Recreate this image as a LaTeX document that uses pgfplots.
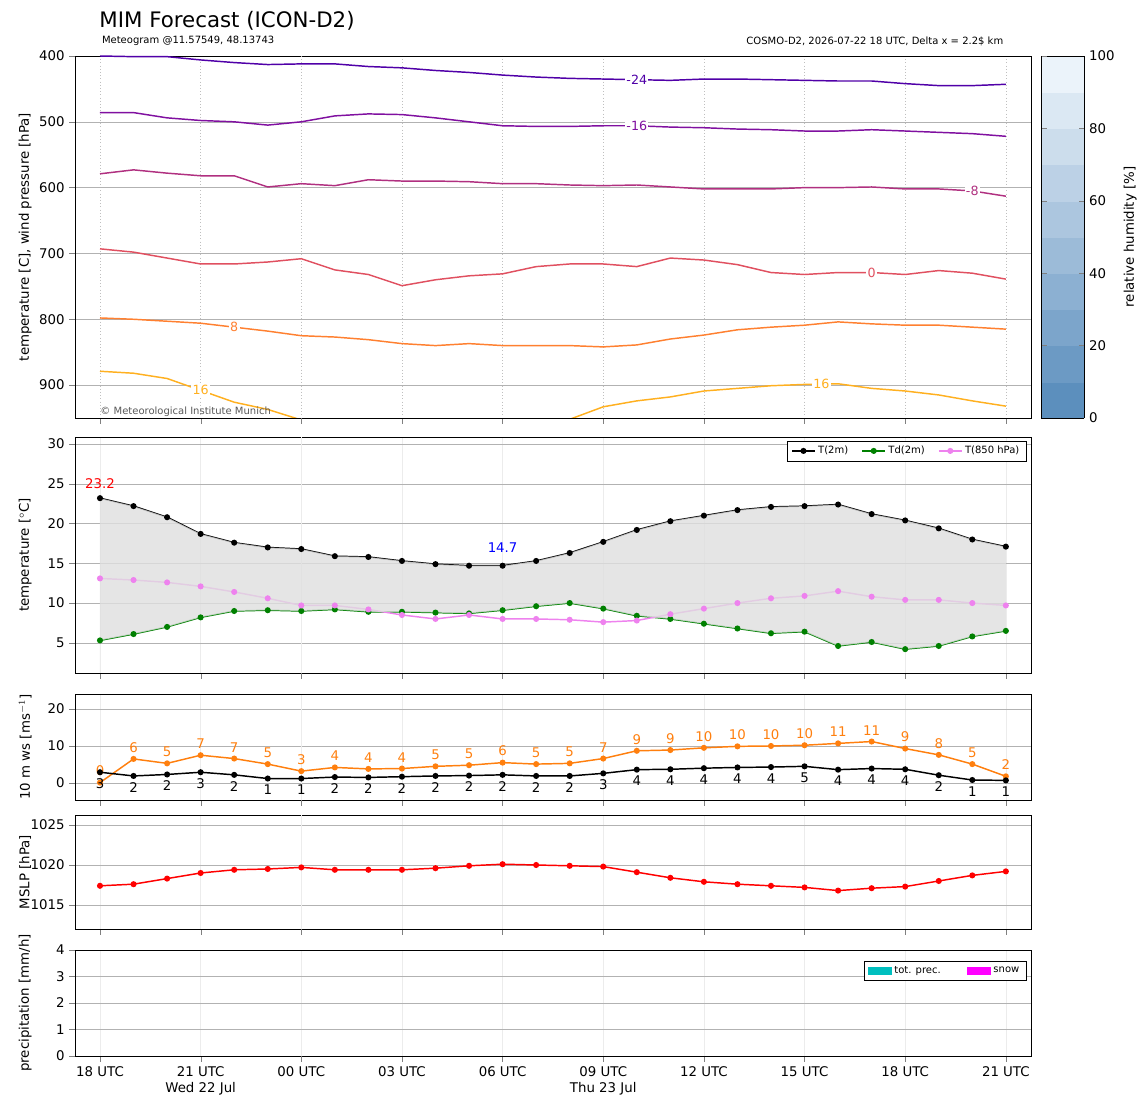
\documentclass[border=0pt]{standalone}
\usepackage{pgfplots}
\pgfplotsset{compat=1.18}
\usepackage{fontspec}
\setmainfont{DejaVu Sans}
\definecolor{c24}{HTML}{5000A8}
\definecolor{c16}{HTML}{8010A0}
\definecolor{c8m}{HTML}{B03080}
\definecolor{c0}{HTML}{E05060}
\definecolor{c8}{HTML}{FF8030}
\definecolor{c16p}{HTML}{FFB020}
\definecolor{gust}{HTML}{FF7F0E}
\definecolor{tdc}{HTML}{008000}
\definecolor{t85}{HTML}{EE82EE}
\definecolor{prc}{HTML}{00BFBF}
\definecolor{snw}{HTML}{FF00FF}
\pgfplotsset{
  base/.style={scale only axis, width=717pt, xmin=-0.745, xmax=27.75,
    xtick={0,3,...,27}, xticklabels={}, ymajorgrids, grid style={gray!60},
    tick label style={font=\fontsize{10}{12}\selectfont},
    label style={font=\fontsize{10}{12}\selectfont},
    /pgf/number format/assume math mode=true,
    tick align=outside, tick pos=left,
    extra x ticks={6}, extra x tick labels={},
    extra x tick style={grid=major, major grid style={black!70, densely dashed, thin}},
    ylabel style={at={(axis description cs:-0.052,0.5)}, anchor=center},
  },
  vg/.style={xmajorgrids, major x grid style={gray!15}},
  ln/.style={line width=1.1pt},
  mk/.style={line width=1.1pt, mark=*, mark size=1.7pt, mark options={solid}},
}
\begin{document}
\begin{tikzpicture}
\useasboundingbox (0,0) rectangle (861pt,828.75pt);
\node[anchor=west,font=\fontsize{16}{19}\selectfont] at (71pt,813pt) {MIM Forecast (ICON-D2)};
\node[anchor=west,font=\fontsize{7.5}{9}\selectfont] at (73pt,798pt) {Meteogram @11.57549, 48.13743};
\node[anchor=east,font=\fontsize{7.5}{9}\selectfont] at (756pt,798pt) {COSMO-D2, 2026-07-22 18 UTC, Delta x = 2.2\$ km};

% Panel 1
\begin{axis}[base, at={(56.25pt,515.25pt)}, anchor=south west, height=271.5pt,
  y dir=reverse, ymin=400, ymax=950, ytick={400,500,...,900},
  ylabel={temperature [C], wind pressure [hPa]},
  xmajorgrids, major x grid style={gray!50, dotted},
  colorbar, point meta min=0, point meta max=100,
  colormap={rh}{rgb=(0.33,0.54,0.73) rgb=(0.95,0.97,0.99)},
  colorbar sampled, 
  colorbar style={samples=11, width=32.25pt, xshift=-1pt, ytick={0,20,...,100},
    ylabel={relative humidity [\%]},
    tick label style={font=\fontsize{10}{12}\selectfont}, /pgf/number format/assume math mode=true}]
\addplot[c24, ln] coordinates {(0,400)(1,401)(2,401)(3,406)(4,410)(5,413)(6,412)(7,412)(8,416)(9,418)(10,422)(11,425)(12,429)(13,432)(14,434)(15,435)(16,436)(17,437)(18,435)(19,435)(20,436)(21,437)(22,438)(23,438)(24,442)(25,445)(26,445)(27,443)};
\addplot[c16, ln] coordinates {(0,486)(1,486)(2,494)(3,498)(4,500)(5,505)(6,500)(7,491)(8,488)(9,489)(10,494)(11,500)(12,506)(13,507)(14,507)(15,506)(16,506)(17,508)(18,509)(19,511)(20,512)(21,514)(22,514)(23,512)(24,514)(25,516)(26,518)(27,522)};
\addplot[c8m, ln] coordinates {(0,579)(1,573)(2,578)(3,582)(4,582)(5,599)(6,594)(7,597)(8,588)(9,590)(10,590)(11,591)(12,594)(13,594)(14,596)(15,597)(16,596)(17,599)(18,602)(19,602)(20,602)(21,600)(22,600)(23,599)(24,602)(25,602)(26,605)(27,613)};
\addplot[c0, ln] coordinates {(0,693)(1,698)(2,707)(3,716)(4,716)(5,713)(6,708)(7,725)(8,732)(9,749)(10,740)(11,734)(12,731)(13,720)(14,716)(15,716)(16,720)(17,707)(18,710)(19,717)(20,729)(21,732)(22,729)(23,729)(24,732)(25,726)(26,730)(27,739)};
\addplot[c8, ln] coordinates {(0,798)(1,800)(2,803)(3,806)(4,812)(5,818)(6,825)(7,827)(8,831)(9,837)(10,840)(11,837)(12,840)(13,840)(14,840)(15,842)(16,839)(17,830)(18,824)(19,816)(20,812)(21,809)(22,804)(23,807)(24,809)(25,809)(26,812)(27,815)};
\addplot[c16p, ln] coordinates {(0,879)(1,882)(2,890)(3,908)(4,926)(5,937)(6,953)(7,975)(8,990)(9,995)(10,995)(11,990)(12,980)(13,968)(14,952)(15,933)(16,924)(17,918)(18,909)(19,905)(20,901)(21,899)(22,898)(23,905)(24,909)(25,915)(26,924)(27,932)};
\node[c24,fill=white,inner sep=1pt,font=\fontsize{9.5}{11}\selectfont] at (axis cs:16,436) {-24};
\node[c16,fill=white,inner sep=1pt,font=\fontsize{9.5}{11}\selectfont] at (axis cs:16,506) {-16};
\node[c8m,fill=white,inner sep=1pt,font=\fontsize{9.5}{11}\selectfont] at (axis cs:26,605) {-8};
\node[c0,fill=white,inner sep=1pt,font=\fontsize{9.5}{11}\selectfont] at (axis cs:23,729) {0};
\node[c8,fill=white,inner sep=1pt,font=\fontsize{9.5}{11}\selectfont] at (axis cs:4,812) {8};
\node[c16p,fill=white,inner sep=1pt,font=\fontsize{9.5}{11}\selectfont] at (axis cs:3,908) {16};
\node[c16p,fill=white,inner sep=1pt,font=\fontsize{9.5}{11}\selectfont] at (axis cs:21.5,898) {16};
\node[anchor=south west,gray!70!black,font=\fontsize{7.5}{9}\selectfont,inner sep=1pt] at (axis description cs:0.025,0.0) {© Meteorological Institute Munich};
\end{axis}

% Panel 2
\begin{axis}[base, vg, at={(56.25pt,324pt)}, anchor=south west, height=177pt,
  ymin=1.2, ymax=30.9, ytick={5,10,...,30}, ylabel={temperature [$^\circ$C]},
  legend style={at={(0.995,0.985)}, anchor=north east, legend columns=3,
    font=\fontsize{7.5}{9}\selectfont, /tikz/every even column/.append style={column sep=8pt}}]
\addplot[black, mk] coordinates {(0,23.2)(1,22.2)(2,20.8)(3,18.7)(4,17.6)(5,17.0)(6,16.8)(7,15.9)(8,15.8)(9,15.3)(10,14.9)(11,14.7)(12,14.7)(13,15.3)(14,16.3)(15,17.7)(16,19.2)(17,20.3)(18,21.0)(19,21.7)(20,22.1)(21,22.2)(22,22.4)(23,21.2)(24,20.4)(25,19.4)(26,18.0)(27,17.1)};
\addlegendentry{T(2m)}
\addplot[tdc, mk] coordinates {(0,5.3)(1,6.1)(2,7.0)(3,8.2)(4,9.0)(5,9.1)(6,9.0)(7,9.2)(8,8.9)(9,8.9)(10,8.8)(11,8.7)(12,9.1)(13,9.6)(14,10.0)(15,9.3)(16,8.4)(17,8.0)(18,7.4)(19,6.8)(20,6.2)(21,6.4)(22,4.6)(23,5.1)(24,4.2)(25,4.6)(26,5.8)(27,6.5)};
\addlegendentry{Td(2m)}
\addplot[t85, mk] coordinates {(0,13.1)(1,12.9)(2,12.6)(3,12.1)(4,11.4)(5,10.6)(6,9.7)(7,9.7)(8,9.2)(9,8.5)(10,8.0)(11,8.5)(12,8.0)(13,8.0)(14,7.9)(15,7.6)(16,7.8)(17,8.6)(18,9.3)(19,10.0)(20,10.6)(21,10.9)(22,11.5)(23,10.8)(24,10.4)(25,10.4)(26,10.0)(27,9.7)};
\addlegendentry{T(850 hPa)}
\addplot[fill=gray!25, draw=none, fill opacity=0.8, forget plot] coordinates {(0,23.2)(1,22.2)(2,20.8)(3,18.7)(4,17.6)(5,17.0)(6,16.8)(7,15.9)(8,15.8)(9,15.3)(10,14.9)(11,14.7)(12,14.7)(13,15.3)(14,16.3)(15,17.7)(16,19.2)(17,20.3)(18,21.0)(19,21.7)(20,22.1)(21,22.2)(22,22.4)(23,21.2)(24,20.4)(25,19.4)(26,18.0)(27,17.1)
(27,6.5)(26,5.8)(25,4.6)(24,4.2)(23,5.1)(22,4.6)(21,6.4)(20,6.2)(19,6.8)(18,7.4)(17,8.0)(16,8.4)(15,9.3)(14,10.0)(13,9.6)(12,9.1)(11,8.7)(10,8.8)(9,8.9)(8,8.9)(7,9.2)(6,9.0)(5,9.1)(4,9.0)(3,8.2)(2,7.0)(1,6.1)(0,5.3)} \closedcycle;
\node[red,font=\fontsize{10}{12}\selectfont] at (axis cs:0,25.0) {23.2};
\node[blue,font=\fontsize{10}{12}\selectfont] at (axis cs:12,17.0) {14.7};
\end{axis}

% Panel 3
\begin{axis}[base, vg, at={(56.25pt,228.75pt)}, anchor=south west, height=79.5pt,
  ymin=-4.6, ymax=24.05, ytick={0,10,20}, ylabel={10 m ws [ms$^{-1}$]},
  point meta=explicit symbolic]
\addplot[gust, mk, nodes near coords, nodes near coords style={font=\fontsize{10}{12}\selectfont, gust, anchor=south, yshift=1pt}] table[meta=l] {
x y l
0 0.1 0
1 6.5 6
2 5.3 5
3 7.5 7
4 6.6 7
5 5.1 5
6 3.2 3
7 4.2 4
8 3.8 4
9 3.9 4
10 4.5 5
11 4.8 5
12 5.5 6
13 5.1 5
14 5.3 5
15 6.6 7
16 8.7 9
17 8.9 9
18 9.5 10
19 9.9 10
20 10.0 10
21 10.2 10
22 10.7 11
23 11.2 11
24 9.3 9
25 7.6 8
26 5.1 5
27 1.8 2
};
\addplot[black, mk, nodes near coords, nodes near coords style={font=\fontsize{10}{12}\selectfont, black, anchor=north, yshift=-1pt}] table[meta=l] {
x y l
0 2.9 3
1 1.9 2
2 2.3 2
3 2.9 3
4 2.2 2
5 1.2 1
6 1.2 1
7 1.6 2
8 1.5 2
9 1.7 2
10 1.9 2
11 2.0 2
12 2.2 2
13 1.9 2
14 1.9 2
15 2.6 3
16 3.6 4
17 3.7 4
18 4.0 4
19 4.2 4
20 4.3 4
21 4.5 5
22 3.6 4
23 3.9 4
24 3.7 4
25 2.1 2
26 0.8 1
27 0.7 1
};
\end{axis}

% Panel 4
\begin{axis}[base, vg, at={(56.25pt,132pt)}, anchor=south west, height=85.5pt,
  ymin=1012, ymax=1026.25, ytick={1015,1020,1025}, ylabel={MSLP [hPa]},
  yticklabel style={/pgf/number format/1000 sep={}}]
\addplot[red, mk] coordinates {(0,1017.4)(1,1017.6)(2,1018.3)(3,1019.0)(4,1019.4)(5,1019.5)(6,1019.7)(7,1019.4)(8,1019.4)(9,1019.4)(10,1019.6)(11,1019.9)(12,1020.1)(13,1020.0)(14,1019.9)(15,1019.8)(16,1019.1)(17,1018.4)(18,1017.9)(19,1017.6)(20,1017.4)(21,1017.2)(22,1016.8)(23,1017.1)(24,1017.3)(25,1018.0)(26,1018.7)(27,1019.2)};
\end{axis}

% Panel 5
\begin{axis}[base, vg, at={(56.25pt,36.75pt)}, anchor=south west, height=79.5pt,
  ymin=0, ymax=4, ytick={0,1,2,3,4}, ylabel={precipitation [mm/h]},
  xticklabels={{18 UTC},{21 UTC\\Wed 22 Jul},{00 UTC},{03 UTC},{06 UTC},{09 UTC\\Thu 23 Jul},{12 UTC},{15 UTC},{18 UTC},{21 UTC}},
  xticklabel style={align=center, anchor=north},
  legend style={at={(0.995,0.9)}, anchor=north east, legend columns=2,
    font=\fontsize{7.5}{9}\selectfont, /tikz/every even column/.append style={column sep=18pt}}]
\addplot[draw=none, forget plot] coordinates {(0,0)(27,0)};
\addlegendimage{area legend, fill=prc, draw=prc}
\addlegendentry{tot. prec.}
\addlegendimage{area legend, fill=snw, draw=snw}
\addlegendentry{snow}
\end{axis}
\end{tikzpicture}
\end{document}
